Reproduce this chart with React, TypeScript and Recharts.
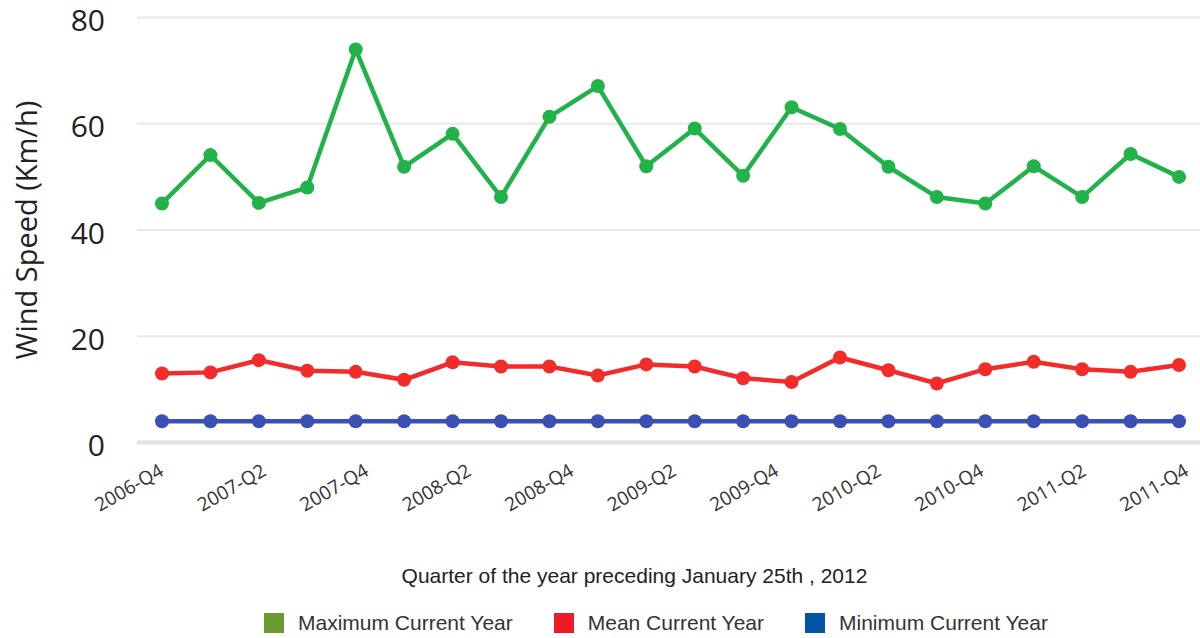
import { LineChart, Line, XAxis, YAxis, CartesianGrid, ReferenceLine, Label } from 'recharts';

const tickLabels = [
  '2006-Q4', '2007-Q2', '2007-Q4', '2008-Q2', '2008-Q4', '2009-Q2',
  '2009-Q4', '2010-Q2', '2010-Q4', '2011-Q2', '2011-Q4',
];

const maxCurrent = [45, 54.1, 45.1, 48, 74, 51.9, 58.1, 46.2, 61.3, 67.1, 52, 59.1, 50.2, 63.1, 59, 51.9, 46.2, 45, 52, 46.2, 54.3, 50];
const meanCurrent = [13.0, 13.2, 15.5, 13.5, 13.3, 11.8, 15.1, 14.3, 14.3, 12.6, 14.7, 14.3, 12.1, 11.4, 16.0, 13.6, 11.1, 13.8, 15.2, 13.8, 13.3, 14.6];
const minCurrent = [4, 4, 4, 4, 4, 4, 4, 4, 4, 4, 4, 4, 4, 4, 4, 4, 4, 4, 4, 4, 4, 4];

const yTicks = [0, 20, 40, 60, 80];

const series = [
  { key: 'max', name: 'Maximum Current Year', line: '#22b24a', swatch: '#6b9b2e' },
  { key: 'mean', name: 'Mean Current Year', line: '#f22b2b', swatch: '#ed1c24' },
  { key: 'min', name: 'Minimum Current Year', line: '#3b50b5', swatch: '#0053a5' },
];

const data = maxCurrent.map((v, i) => ({
  idx: i,
  max: v,
  mean: meanCurrent[i],
  min: minCurrent[i],
}));

const lastIdx = data.length - 1;
const tickStep = lastIdx / (tickLabels.length - 1);
const xTicks = tickLabels.map((_, i) => i * tickStep);

const FONT = '"Open Sans", sans-serif';
const LEGEND_FONT = '"Liberation Sans", Arial, sans-serif';

const QuarterTick = (props: any) => {
  const { x, y, payload } = props;
  const n = Math.round(payload.value / tickStep);
  // labels in the original drift slightly right of their quarter
  const tx = x + 3 + n * 0.8;
  const ty = y + 24;
  return (
    <text x={tx} y={ty} transform={`rotate(-30 ${tx} ${ty})`} textAnchor="end"
      fill="#333" fontSize={19} fontFamily={FONT}>
      {tickLabels[n]}
    </text>
  );
};

export default function App() {
  return (
    <div style={{ position: 'absolute', left: 0, top: 0, width: 1200, height: 638, background: '#fff' }}>
      <LineChart width={1200} height={638} data={data}
        margin={{ top: 17.5, right: 0, bottom: 0, left: 0 }}>
        <CartesianGrid vertical={false} stroke="#e8e8e8" strokeWidth={2} />
        <XAxis type="number" dataKey="idx" domain={[0, lastIdx]} ticks={xTicks}
          padding={{ left: 25, right: 21 }} height={195.5} interval={0}
          axisLine={false} tickLine={false} tick={<QuarterTick />}>
          <Label content={({ viewBox }: any) => (
            <text x={viewBox.x + viewBox.width / 2 - 34} y={viewBox.y + 140} textAnchor="middle"
              fill="#222" fontSize={21} fontFamily={LEGEND_FONT}>
              Quarter of the year preceding January 25th , 2012
            </text>
          )} />
        </XAxis>
        <YAxis type="number" domain={[0, 80]} ticks={yTicks} width={137}
          axisLine={false} tickLine={false} tickSize={0} tickMargin={32}
          tick={{ fill: '#222', fontSize: 30, fontFamily: FONT, dy: 3 }}>
          <Label content={({ viewBox }: any) => {
            const cy = viewBox.y + viewBox.height / 2;
            return (
              <text x={25} y={cy} transform={`rotate(-90 25 ${cy})`} textAnchor="middle"
                dominantBaseline="central" fill="#222" fontSize={29} fontFamily={FONT}>
                Wind Speed (Km/h)
              </text>
            );
          }} />
        </YAxis>
        <ReferenceLine y={0} stroke="#e2e2e2" strokeWidth={4} />
        {series.map((s) => (
          <Line key={s.key} type="linear" dataKey={s.key} name={s.name} stroke={s.line}
            strokeWidth={4.5} dot={{ r: 7, fill: s.line, stroke: s.line, strokeWidth: 0 }}
            activeDot={false} isAnimationActive={false} />
        ))}
      </LineChart>
      <div style={{ position: 'absolute', left: 264, top: 613, display: 'flex', alignItems: 'center' }}>
        {series.map((s, i) => (
          <div key={s.key} style={{ display: 'flex', alignItems: 'center', marginLeft: i === 0 ? 0 : 41 }}>
            <div style={{ width: 20, height: 20, background: s.swatch }} />
            <span style={{ marginLeft: 14, fontSize: 21, fontFamily: LEGEND_FONT, color: '#333', lineHeight: '20px' }}>
              {s.name}
            </span>
          </div>
        ))}
      </div>
    </div>
  );
}
